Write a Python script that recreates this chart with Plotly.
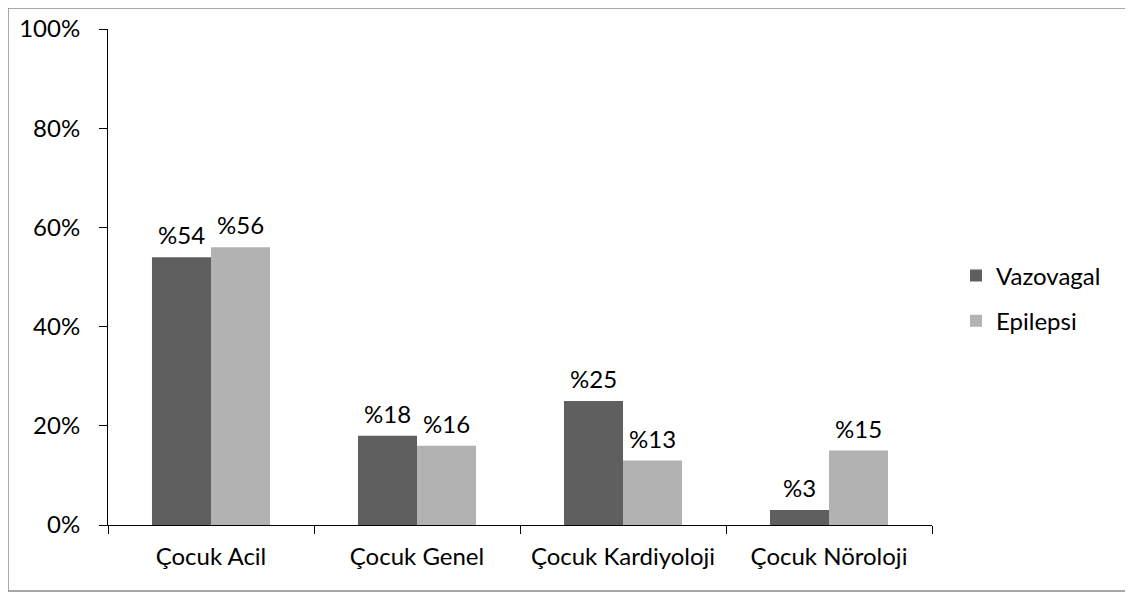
import plotly.graph_objects as go

categories = ["Çocuk Acil", "Çocuk Genel", "Çocuk Kardiyoloji", "Çocuk Nöroloji"]
vazovagal = [54, 18, 25, 3]
epilepsi = [56, 16, 13, 15]
y_ticks = [0, 20, 40, 60, 80, 100]
y_tick_text = ["0%", "20%", "40%", "60%", "80%", "100%"]

FONT = "Lato"
FS = 24

OFF = 8  # page body margin
L, R, T, B = 108 - OFF, 932 - OFF, 29 - OFF, 525 - OFF
W, H = 1133 - OFF, 594 - OFF
pw, ph = R - L, B - T

def px(x):
    return (x - OFF - L) / pw

def py(y):
    return (B - (y - OFF)) / ph

fig = go.Figure()
fig.add_trace(go.Bar(
    name="Vazovagal", x=categories, y=vazovagal,
    marker=dict(color="#5f5f5f", line=dict(width=0)),
    legendgroup="a",
))
fig.add_trace(go.Bar(
    name="Epilepsi", x=categories, y=epilepsi,
    marker=dict(color="#b2b2b2", line=dict(width=0)),
    legendgroup="b",
))

annotations = []
for cat, v in zip(categories, vazovagal):
    annotations.append(dict(x=cat, y=v, xref="x", yref="y", text=f"%{v}",
                            showarrow=False, xshift=-29.5, yshift=6,
                            yanchor="bottom", xanchor="center",
                            font=dict(family=FONT, size=FS, color="#000")))
for cat, v in zip(categories, epilepsi):
    annotations.append(dict(x=cat, y=v, xref="x", yref="y", text=f"%{v}",
                            showarrow=False, xshift=29.5, yshift=6,
                            yanchor="bottom", xanchor="center",
                            font=dict(family=FONT, size=FS, color="#000")))

fig.update_layout(
    width=W, height=H,
    margin=dict(l=L, r=W - R, t=T, b=H - B, pad=0, autoexpand=False),
    paper_bgcolor="white", plot_bgcolor="white",
    font=dict(family=FONT, size=FS, color="#000"),
    barmode="group", bargap=0.427, bargroupgap=0,
    showlegend=True,
    legend=dict(x=px(956), y=py(298.5), xanchor="left", yanchor="middle",
                font=dict(family=FONT, size=FS, color="#000"),
                traceorder="grouped", tracegroupgap=11,
                bgcolor="rgba(0,0,0,0)"),
    xaxis=dict(showline=True, linecolor="#000", linewidth=1,
               ticks="outside", tickson="boundaries", ticklen=8,
               tickcolor="#000", showgrid=False, zeroline=False,
               ticklabelstandoff=10, tickangle=0, automargin=False,
               tickfont=dict(family=FONT, size=FS, color="#000")),
    yaxis=dict(range=[0, 100], tickvals=y_ticks, ticktext=y_tick_text,
               tickmode="array", automargin=False,
               showline=True, linecolor="#000", linewidth=1,
               ticks="outside", ticklen=8, tickcolor="#000",
               showgrid=False, zeroline=False, ticklabelstandoff=14,
               tickfont=dict(family=FONT, size=FS, color="#000")),
    annotations=annotations,
    shapes=[dict(type="rect", xref="paper", yref="paper",
                 x0=px(max(6, OFF)), x1=px(1129), y0=py(591), y1=py(max(1, OFF)),
                 line=dict(color="#8c8c8c", width=1.5), fillcolor="rgba(0,0,0,0)")],
)

fig.write_html("out.html")
